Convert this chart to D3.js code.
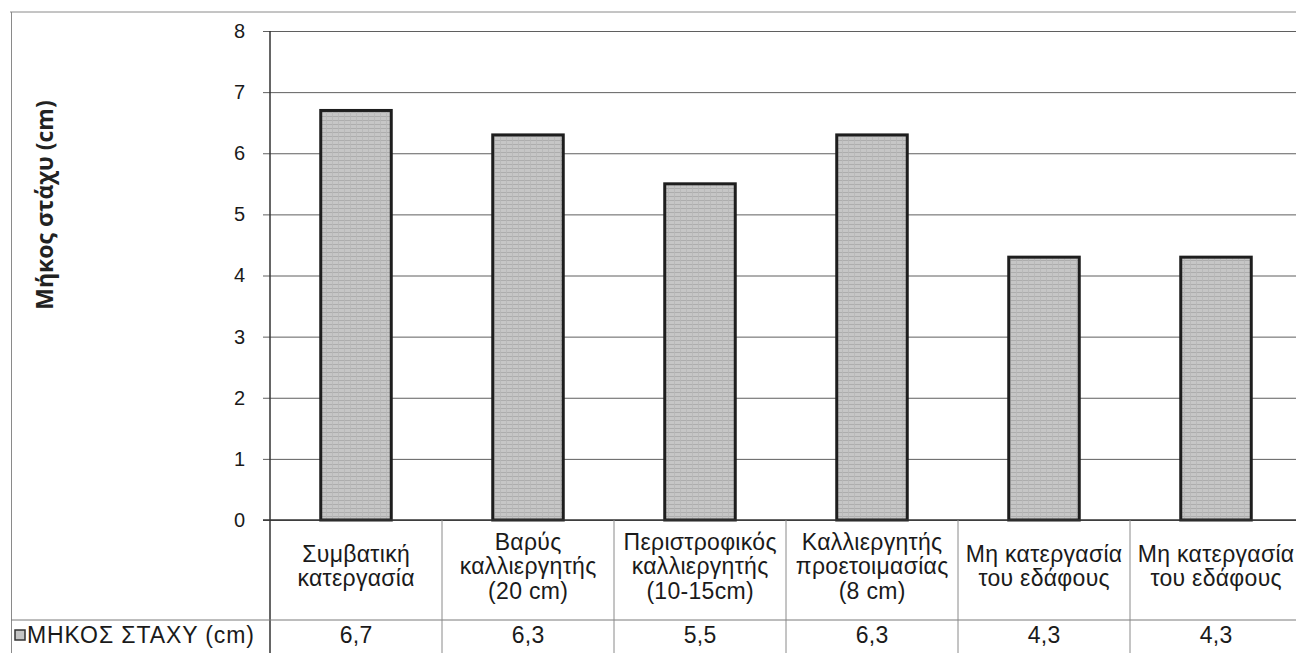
<!DOCTYPE html>
<html>
<head>
<meta charset="utf-8">
<script src="https://cdn.jsdelivr.net/npm/d3@7"></script>
<style>
  html, body { margin: 0; padding: 0; background: #fff; }
  svg { display: block; }
</style>
</head>
<body>
<svg id="chart" width="1296" height="653"></svg>
<script>
// Spike length per tillage method
const categories = [
  ["Συμβατική", "κατεργασία"],
  ["Βαρύς", "καλλιεργητής", "(20 cm)"],
  ["Περιστροφικός", "καλλιεργητής", "(10-15cm)"],
  ["Καλλιεργητής", "προετοιμασίας", "(8 cm)"],
  ["Μη κατεργασία", "του εδάφους"],
  ["Μη κατεργασία", "του εδάφους"]
];
const values = [6.7, 6.3, 5.5, 6.3, 4.3, 4.3];
const valueLabels = ["6,7", "6,3", "5,5", "6,3", "4,3", "4,3"];
const yTicks = [0, 1, 2, 3, 4, 5, 6, 7, 8];
const seriesName = "ΜΗΚΟΣ ΣΤΑΧΥ (cm)";
const yTitle = "Μήκος στάχυ  (cm)";

const svg = d3.select("#chart");
const W = 1296, H = 653;
const plotLeft = 270, plotRight = 1302, plotTop = 31, zeroY = 520;
const tableMid = 620;
const FONT = "Liberation Sans, Arial, sans-serif";
const FS = 23;   // data table text size
const LS = 0.3;  // data table letter spacing

const idx = d3.range(values.length);
const col = d3.scaleBand().domain(idx).range([plotLeft, plotRight]);
const x = d3.scaleBand().domain(idx).range([plotLeft, plotRight]).paddingInner(0.59).paddingOuter(0.295);
const y = d3.scaleLinear().domain([0, 8]).range([zeroY, plotTop]);

// textured grey fill for the bars
const defs = svg.append("defs");
const pat = defs.append("pattern").attr("id", "tex")
  .attr("patternUnits", "userSpaceOnUse").attr("width", 6).attr("height", 4);
pat.append("rect").attr("width", 6).attr("height", 4).attr("fill", "#c6c6c6");
pat.append("line").attr("x1", 0).attr("x2", 6).attr("y1", 0.5).attr("y2", 0.5)
  .attr("stroke", "#adadad").attr("stroke-width", 1);
pat.append("line").attr("x1", 2.5).attr("x2", 2.5).attr("y1", 0).attr("y2", 4)
  .attr("stroke", "#b8b8b8").attr("stroke-width", 0.8);

// outer chart frame
svg.append("line").attr("x1", 10).attr("x2", W).attr("y1", 12).attr("y2", 12)
  .attr("stroke", "#8a8a8a").attr("stroke-width", 1);
svg.append("line").attr("x1", 11.5).attr("x2", 11.5).attr("y1", 12).attr("y2", H)
  .attr("stroke", "#8a8a8a").attr("stroke-width", 1);

// gridlines + ticks via axis
const yAxis = d3.axisLeft(y).tickValues(yTicks).tickSize(-(W - plotLeft)).tickPadding(25)
  .tickFormat(d3.format("d"));
const gy = svg.append("g").attr("transform", `translate(${plotLeft},0)`).call(yAxis);
gy.select(".domain").remove();
gy.selectAll(".tick line").attr("stroke", "#5f5f5f").attr("stroke-width", 1)
  .attr("x1", -7);
gy.selectAll(".tick text").attr("font-family", FONT)
  .attr("font-size", 20).attr("fill", "#1a1a1a");

// bars
svg.append("g").selectAll("rect").data(idx).join("rect")
  .attr("x", i => x(i))
  .attr("y", i => y(values[i]))
  .attr("width", x.bandwidth())
  .attr("height", i => y(0) - y(values[i]))
  .attr("fill", "url(#tex)")
  .attr("stroke", "#1e1e1e").attr("stroke-width", 3);

// value axis line (continues through the data table)
svg.append("line").attr("x1", plotLeft).attr("x2", plotLeft).attr("y1", plotTop).attr("y2", H)
  .attr("stroke", "#333").attr("stroke-width", 1.5);
// category axis line
svg.append("line").attr("x1", plotLeft - 7).attr("x2", W).attr("y1", zeroY).attr("y2", zeroY)
  .attr("stroke", "#333").attr("stroke-width", 1.5);

// data table grid
svg.append("line").attr("x1", 11).attr("x2", W).attr("y1", tableMid).attr("y2", tableMid)
  .attr("stroke", "#7a7a7a").attr("stroke-width", 1);
svg.append("g").selectAll("line").data(idx.slice(1)).join("line")
  .attr("x1", i => col(i)).attr("x2", i => col(i))
  .attr("y1", zeroY).attr("y2", H)
  .attr("stroke", "#8a8a8a").attr("stroke-width", 1);

// category labels
const lineH = 24.5;
const cx = i => col(i) + col.bandwidth() / 2 + LS / 2;
const catG = svg.append("g").attr("font-family", FONT)
  .attr("font-size", FS).attr("letter-spacing", LS)
  .attr("fill", "#1a1a1a").attr("text-anchor", "middle");
catG.selectAll("text").data(idx).join("text")
  .attr("x", cx)
  .attr("y", i => 568 - (categories[i].length - 1) * lineH / 2)
  .attr("dominant-baseline", "middle")
  .each(function(i) {
    const t = d3.select(this);
    categories[i].forEach((line, k) => {
      t.append("tspan").attr("x", cx(i))
        .attr("dy", k === 0 ? 0 : lineH).text(line);
    });
  });

// values row
svg.append("g").attr("font-family", FONT)
  .attr("font-size", FS).attr("letter-spacing", LS)
  .attr("fill", "#1a1a1a").attr("text-anchor", "middle")
  .selectAll("text").data(idx).join("text")
  .attr("x", cx)
  .attr("y", 637).attr("dominant-baseline", "middle")
  .text(i => valueLabels[i]);

// legend key + series name
svg.append("rect").attr("x", 15).attr("y", 630).attr("width", 10).attr("height", 10)
  .attr("fill", "#c4c4c4").attr("stroke", "#333").attr("stroke-width", 1.5);
svg.append("text").attr("x", 27).attr("y", 637).attr("dominant-baseline", "middle")
  .attr("font-family", FONT).attr("font-size", FS).attr("letter-spacing", 0.9)
  .attr("fill", "#1a1a1a").text(seriesName);

// value axis title
svg.append("text")
  .attr("transform", "translate(47,205) rotate(-90)")
  .attr("text-anchor", "middle").attr("dominant-baseline", "middle")
  .attr("font-family", "Open Sans, DejaVu Sans, sans-serif").attr("font-weight", "bold")
  .attr("font-size", 23).attr("fill", "#222")
  .text(yTitle);
</script>
</body>
</html>
